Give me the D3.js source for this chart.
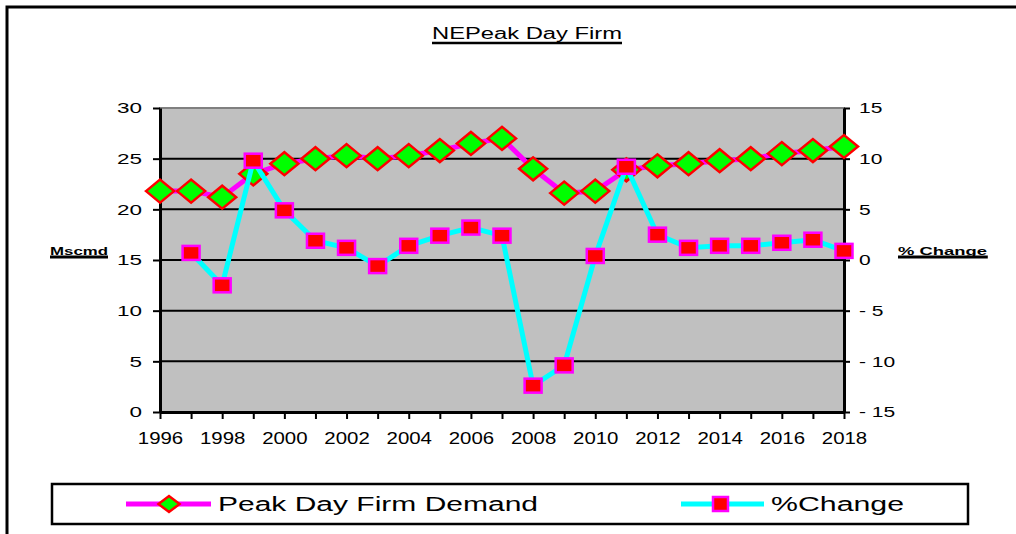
<!DOCTYPE html>
<html>
<head>
<meta charset="utf-8">
<script src="https://cdn.jsdelivr.net/npm/d3@7"></script>
<style>
  body { margin: 0; background: #fff; }
  text { font-family: "Liberation Sans", Arial, sans-serif; fill: #000; }
</style>
</head>
<body>
<svg id="chart" width="1016" height="534"></svg>
<script>
// data
const years = [1996, 1997, 1998, 1999, 2000, 2001, 2002, 2003, 2004, 2005, 2006, 2007,
               2008, 2009, 2010, 2011, 2012, 2013, 2014, 2015, 2016, 2017, 2018];
const peakDemand = [21.8, 21.8, 21.2, 23.5, 24.5, 25.0, 25.3, 25.0, 25.3, 25.8, 26.5, 27.0,
                    24.0, 21.6, 21.8, 23.9, 24.3, 24.5, 24.8, 25.0, 25.5, 25.8, 26.2];
const pctChange = [null, 0.7, -2.5, 9.8, 4.9, 1.9, 1.2, -0.6, 1.4, 2.4, 3.2, 2.4,
                   -12.4, -10.4, 0.4, 9.2, 2.5, 1.2, 1.4, 1.4, 1.7, 2.0, 0.9];
const leftTicks = [0, 5, 10, 15, 20, 25, 30];
const rightTicks = [-15, -10, -5, 0, 5, 10, 15];
const yearLabels = [1996, 1998, 2000, 2002, 2004, 2006, 2008, 2010, 2012, 2014, 2016, 2018];

const titleText = "NEPeak Day Firm";
const leftTitle = "Mscmd";
const rightTitle = "% Change";
const seriesNames = ["Peak Day Firm Demand", "%Change"];

const svg = d3.select("#chart");

// widen text the way the original renderer did
function stretch(sel, k) {
    sel.each(function () {
        const w = this.getComputedTextLength();
        d3.select(this).attr("textLength", w * k).attr("lengthAdjust", "spacingAndGlyphs");
    });
}

// outer frame (runs off the page right and bottom)
svg.append("rect")
    .attr("x", 7).attr("y", 7)
    .attr("width", 1030).attr("height", 560)
    .attr("fill", "#fff")
    .attr("stroke", "#000")
    .attr("stroke-width", 3);

const pL = 160, pR = 844, pT = 108, pB = 412;

const x = d3.scalePoint().domain(years).range([pL, pR]);
const yLeft = d3.scaleLinear().domain([0, 30]).range([pB, pT]);
const yRight = d3.scaleLinear().domain([-15, 15]).range([pB, pT]);

// plot background
svg.append("rect")
    .attr("x", pL).attr("y", pT)
    .attr("width", pR - pL).attr("height", pB - pT)
    .attr("fill", "#c0c0c0")
    .attr("stroke", "#808080")
    .attr("stroke-width", 2);

// gridlines
svg.append("g").selectAll("line")
    .data(leftTicks.filter(d => d > 0 && d < 30))
    .enter().append("line")
    .attr("x1", pL).attr("x2", pR)
    .attr("y1", d => yLeft(d)).attr("y2", d => yLeft(d))
    .attr("stroke", "#000")
    .attr("stroke-width", 2);

// axes
const leftAxis = svg.append("g")
    .attr("transform", "translate(" + pL + ",0)")
    .call(d3.axisLeft(yLeft).tickValues(leftTicks).tickSize(7).tickPadding(11).tickSizeOuter(0));

const rightAxis = svg.append("g")
    .attr("transform", "translate(" + pR + ",0)")
    .call(d3.axisRight(yRight).tickValues(rightTicks).tickSize(6).tickPadding(9).tickSizeOuter(0)
        .tickFormat(d => d < 0 ? "- " + (-d) : d));

const bottomAxis = svg.append("g")
    .attr("transform", "translate(0," + pB + ")")
    .call(d3.axisBottom(x).tickSize(7).tickPadding(13).tickSizeOuter(0)
        .tickFormat(d => yearLabels.includes(d) ? d : ""));

[leftAxis, rightAxis, bottomAxis].forEach(a => {
    a.select(".domain").attr("stroke", "#000").attr("stroke-width", 3);
    a.selectAll(".tick line").attr("stroke", "#000").attr("stroke-width", 2);
    a.selectAll("text").attr("font-family", "Liberation Sans, Arial, sans-serif").attr("fill", "#000");
});
leftAxis.selectAll("text").attr("font-size", 15).call(stretch, 1.5);
rightAxis.selectAll("text").attr("font-size", 15).call(stretch, 1.4);
bottomAxis.selectAll("text").attr("font-size", 17).call(stretch, 1.2);

// title
const title = svg.append("text")
    .attr("x", 527).attr("y", 39)
    .attr("text-anchor", "middle")
    .attr("font-size", 16)
    .attr("textLength", 190)
    .attr("lengthAdjust", "spacingAndGlyphs")
    .text(titleText);

// axis titles
const lt = svg.append("text")
    .attr("x", 50).attr("y", 255)
    .attr("font-size", 10).attr("font-weight", "bold")
    .attr("textLength", 58).attr("lengthAdjust", "spacingAndGlyphs")
    .text(leftTitle);
const rt = svg.append("text")
    .attr("x", 898).attr("y", 255)
    .attr("font-size", 10).attr("font-weight", "bold")
    .attr("textLength", 89).attr("lengthAdjust", "spacingAndGlyphs")
    .text(rightTitle);

// underline title texts
[[title, 4, 2.5], [lt, 2, 3], [rt, 2, 3]].forEach(([t, off, sw]) => {
    const b = t.node().getBBox();
    svg.append("line")
        .attr("x1", b.x).attr("x2", b.x + b.width)
        .attr("y1", +t.attr("y") + off).attr("y2", +t.attr("y") + off)
        .attr("stroke", "#000").attr("stroke-width", sw);
});

// series 1: peak demand
const demandData = years.map((y, i) => ({ year: y, v: peakDemand[i] }));
const changeData = years.map((y, i) => ({ year: y, v: pctChange[i] }));

const diamond = (cx, cy, w, h) =>
    "M" + (cx - w) + "," + cy + "L" + cx + "," + (cy - h) + "L" + (cx + w) + "," + cy + "L" + cx + "," + (cy + h) + "Z";

svg.append("path")
    .datum(demandData)
    .attr("fill", "none")
    .attr("stroke", "#ff00ff")
    .attr("stroke-width", 5)
    .attr("d", d3.line().x(d => x(d.year)).y(d => yLeft(d.v)));

svg.append("g").selectAll("path")
    .data(demandData)
    .enter().append("path")
    .attr("d", d => diamond(x(d.year), yLeft(d.v), 14, 11.5))
    .attr("fill", "#00ff00")
    .attr("stroke", "#ff0000")
    .attr("stroke-width", 2.5);

// series 2: % change
svg.append("path")
    .datum(changeData)
    .attr("fill", "none")
    .attr("stroke", "#00ffff")
    .attr("stroke-width", 5)
    .attr("d", d3.line().defined(d => d.v !== null).x(d => x(d.year)).y(d => yRight(d.v)));

svg.append("g").selectAll("rect")
    .data(changeData.filter(d => d.v !== null))
    .enter().append("rect")
    .attr("x", d => x(d.year) - 8.5)
    .attr("y", d => yRight(d.v) - 7)
    .attr("width", 17).attr("height", 14)
    .attr("fill", "#ff0000")
    .attr("stroke", "#ff00ff")
    .attr("stroke-width", 2.5);

// legend
const legend = svg.append("g");
legend.append("rect")
    .attr("x", 52).attr("y", 484)
    .attr("width", 916).attr("height", 40)
    .attr("fill", "#fff")
    .attr("stroke", "#000")
    .attr("stroke-width", 2.5);

legend.append("line")
    .attr("x1", 126).attr("x2", 211).attr("y1", 504).attr("y2", 504)
    .attr("stroke", "#ff00ff").attr("stroke-width", 5);
legend.append("path")
    .attr("d", diamond(169, 504, 10.5, 8))
    .attr("fill", "#00ff00").attr("stroke", "#ff0000").attr("stroke-width", 2.5);
legend.append("text")
    .attr("x", 218).attr("y", 511)
    .attr("font-size", 20)
    .attr("textLength", 320).attr("lengthAdjust", "spacingAndGlyphs")
    .text(seriesNames[0]);

legend.append("line")
    .attr("x1", 681).attr("x2", 764).attr("y1", 504).attr("y2", 504)
    .attr("stroke", "#00ffff").attr("stroke-width", 5);
legend.append("rect")
    .attr("x", 713).attr("y", 497)
    .attr("width", 15).attr("height", 14)
    .attr("fill", "#ff0000").attr("stroke", "#ff00ff").attr("stroke-width", 2.5);
legend.append("text")
    .attr("x", 771).attr("y", 511)
    .attr("font-size", 20)
    .attr("textLength", 133).attr("lengthAdjust", "spacingAndGlyphs")
    .text(seriesNames[1]);
</script>
</body>
</html>
